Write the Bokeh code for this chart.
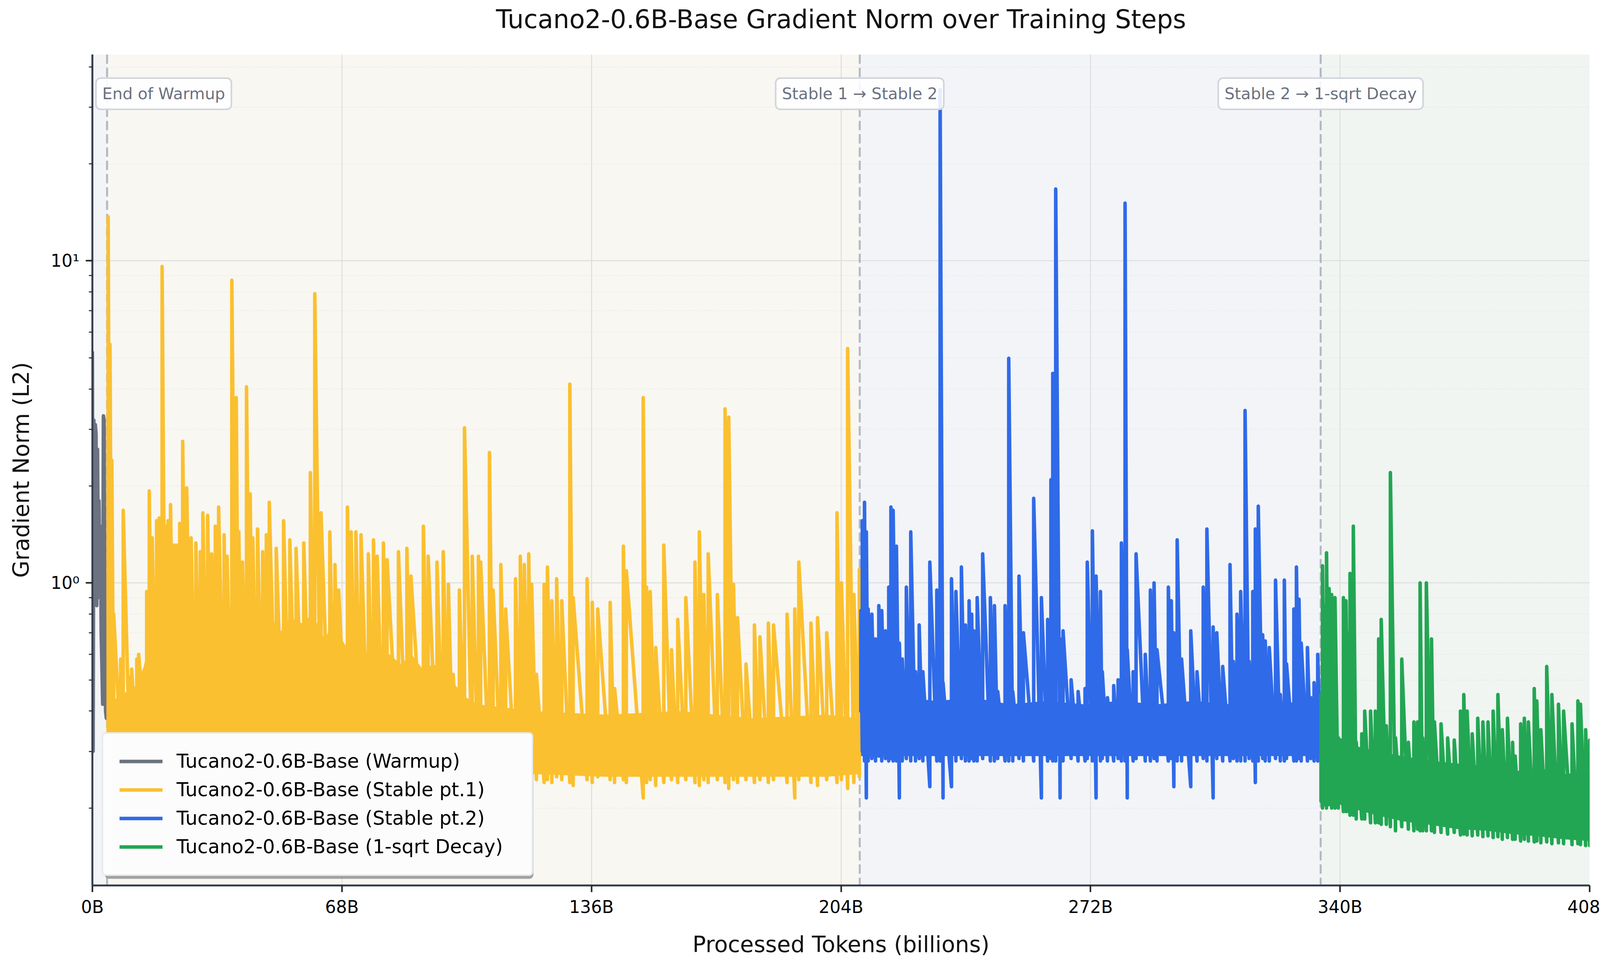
from bokeh.plotting import figure
from bokeh.models import (Range1d, BoxAnnotation, Span, Label, Legend, LegendItem,
                          FixedTicker, LogTicker, Title)
from bokeh.embed import file_html
from bokeh.resources import INLINE

# ---- data (tokens in billions, grad norm L2) ----
x_ticks = [0, 68, 136, 204, 272, 340, 408]
x_tick_labels = ["0B", "68B", "136B", "204B", "272B", "340B", "408B"]

phase_edges = [0.0, 4.0, 209.1, 334.7, 408.0]
phase_names = ["Warmup", "Stable pt.1", "Stable pt.2", "1-sqrt Decay"]
boundary_text = ["End of Warmup", "Stable 1 \u2192 Stable 2", "Stable 2 \u2192 1-sqrt Decay"]

warm_tok = [0.0, 0.2, 0.4, 0.6, 0.8, 1.0, 1.2, 1.4, 1.6, 1.8, 2.0,
            2.2, 2.4, 2.6, 2.8, 3.0, 3.2, 3.4, 3.6, 3.8, 4.0]
warm_norm = [5.2, 0.3, 3.2, 1.3, 3.1, 2.9, 0.85, 2.6, 1.2, 1.8, 0.9,
             1.5, 0.7, 0.55, 0.42, 3.3, 3.2, 0.6, 0.4, 0.38, 0.42]

# stable pt.1 : spike position, spike top, trough before the spike
s1_tok = [4.3, 4.8, 5.3, 5.8, 7.7, 8.4, 10.1, 10.7, 12.1, 12.6,
          14.8, 15.5, 16.3, 17.5, 18.2, 19.0, 19.9, 20.6, 21.3, 22.3,
          23.0, 23.8, 24.6, 25.7, 26.9, 28.2, 29.4, 30.1, 31.4, 32.5,
          33.5, 34.4, 35.9, 36.7, 38.0, 39.2, 39.9, 40.9, 42.0, 43.0,
          43.7, 45.0, 46.4, 47.4, 48.2, 50.1, 52.1, 53.8, 55.5, 57.6,
          59.4, 60.6, 62.3, 64.7, 66.1, 67.1, 69.5, 70.5, 71.8, 73.2,
          75.2, 76.6, 77.6, 79.3, 80.3, 83.4, 85.7, 86.8, 90.2, 91.5,
          93.9, 95.6, 97.0, 98.3, 100.0, 101.4, 103.5, 105.2, 105.8, 108.2,
          109.2, 111.3, 112.6, 115.3, 116.6, 117.7, 118.9, 119.7, 121.0, 123.1,
          124.0, 125.2, 126.5, 127.9, 130.1, 131.0, 134.8, 136.2, 137.7, 141.1,
          142.3, 144.7, 145.5, 150.1, 151.0, 152.0, 153.5, 155.7, 157.8, 159.5,
          161.7, 164.2, 165.4, 166.6, 167.8, 170.3, 172.4, 173.4, 174.7, 175.8,
          178.1, 180.4, 181.9, 184.2, 185.6, 189.3, 191.4, 192.5, 195.8, 197.6,
          200.1, 202.9, 204.1, 205.8, 207.5, 209.0]
s1_peak = [13.7, 5.5, 2.4, 0.8, 0.58, 1.68, 0.51, 0.54, 0.58, 0.60,
           0.94, 1.93, 1.38, 1.56, 1.59, 9.6, 1.50, 1.56, 1.75, 1.31,
           1.31, 1.53, 2.75, 1.97, 1.38, 1.33, 1.25, 1.65, 1.62, 1.23,
           1.50, 1.72, 1.41, 1.21, 8.7, 3.76, 1.44, 1.16, 4.06, 1.89,
           1.38, 1.47, 1.25, 1.41, 1.78, 1.28, 1.56, 1.36, 1.28, 1.33,
           2.2, 7.9, 1.65, 1.44, 1.14, 0.95, 1.72, 1.44, 1.44, 1.41,
           1.23, 1.36, 1.21, 1.33, 1.18, 1.25, 1.28, 1.05, 1.5, 1.21,
           1.16, 1.25, 0.99, 0.52, 0.95, 3.03, 1.21, 1.21, 1.16, 2.54,
           0.95, 1.14, 0.83, 1.03, 1.21, 1.14, 1.23, 0.99, 0.52, 0.99,
           1.12, 0.88, 1.03, 0.88, 4.14, 0.90, 1.03, 0.87, 0.83, 0.87,
           0.47, 1.3, 1.09, 3.76, 0.97, 0.94, 0.63, 1.31, 0.62, 0.77,
           0.90, 1.16, 1.44, 0.92, 1.23, 0.92, 3.47, 3.27, 0.99, 0.78,
           0.56, 0.74, 0.68, 0.75, 0.74, 0.80, 0.83, 1.16, 0.75, 0.78,
           0.70, 1.65, 1.0, 5.34, 0.92, 1.1]
s1_trough = [0.30, 0.32, 0.33, 0.30, 0.31, 0.30, 0.31, 0.30, 0.30, 0.31,
             0.30, 0.28, 0.27, 0.26, 0.27, 0.26, 0.26, 0.27, 0.26, 0.26,
             0.26, 0.27, 0.26, 0.26, 0.27, 0.26, 0.26, 0.26, 0.27, 0.26,
             0.26, 0.26, 0.27, 0.26, 0.26, 0.25, 0.26, 0.26, 0.26, 0.26,
             0.26, 0.27, 0.26, 0.26, 0.26, 0.26, 0.25, 0.26, 0.26, 0.26,
             0.26, 0.26, 0.25, 0.26, 0.26, 0.26, 0.26, 0.26, 0.25, 0.26,
             0.26, 0.26, 0.25, 0.26, 0.26, 0.26, 0.25, 0.26, 0.26, 0.25,
             0.26, 0.25, 0.26, 0.26, 0.25, 0.26, 0.25, 0.245, 0.25, 0.245,
             0.24, 0.25, 0.245, 0.24, 0.25, 0.245, 0.24, 0.25, 0.245, 0.24,
             0.245, 0.24, 0.25, 0.245, 0.24, 0.235, 0.245, 0.24, 0.25, 0.245,
             0.24, 0.245, 0.24, 0.215, 0.24, 0.245, 0.235, 0.24, 0.245, 0.24,
             0.245, 0.24, 0.235, 0.245, 0.24, 0.245, 0.24, 0.23, 0.245, 0.24,
             0.245, 0.24, 0.245, 0.24, 0.245, 0.24, 0.215, 0.245, 0.24, 0.235,
             0.245, 0.24, 0.245, 0.23, 0.24, 0.25]
# solid (dense) part of the stable pt.1 curve
s1_band_tok = [4, 8, 12, 14, 16, 18, 21, 24, 27, 30, 33, 36, 39, 42, 45, 48, 51,
               54, 57, 60, 63, 66, 69, 72, 75, 78, 81, 84, 87, 90, 93, 96, 99,
               102, 105, 120, 140, 160, 180, 200, 209]
s1_band_lo = [0.30, 0.30, 0.30, 0.30, 0.27, 0.265, 0.265, 0.265, 0.265, 0.265,
              0.265, 0.265, 0.265, 0.265, 0.265, 0.265, 0.265, 0.265, 0.265,
              0.265, 0.265, 0.265, 0.265, 0.265, 0.265, 0.265, 0.265, 0.26,
              0.26, 0.26, 0.26, 0.26, 0.26, 0.255, 0.255, 0.255, 0.25, 0.25,
              0.25, 0.25, 0.255]
s1_band_hi = [0.42, 0.45, 0.48, 0.55, 0.70, 0.75, 0.80, 0.72, 0.82, 0.76, 0.80,
              0.72, 0.85, 0.78, 0.74, 0.82, 0.70, 0.78, 0.75, 0.80, 0.68, 0.72,
              0.64, 0.68, 0.60, 0.64, 0.60, 0.56, 0.60, 0.54, 0.56, 0.52, 0.48,
              0.44, 0.42, 0.40, 0.39, 0.40, 0.38, 0.39, 0.38]

# stable pt.2
s2_tok = [209.4, 209.8, 210.4, 210.9, 211.4, 212.4, 213.4, 214.3, 215.1, 216.1,
          217.0, 217.6, 218.2, 219.1, 219.9, 220.7, 221.8, 223.0, 224.3, 225.3,
          226.3, 228.2, 230.1, 231.0, 231.8, 234.1, 235.3, 236.8, 237.9, 238.9,
          239.6, 240.2, 241.1, 242.6, 244.7, 245.8, 246.7, 248.7, 249.7, 250.8,
          252.5, 253.7, 256.5, 258.6, 260.3, 261.2, 261.7, 262.5, 263.7, 264.5,
          266.7, 268.6, 270.5, 271.1, 272.5, 273.5, 274.7, 275.2, 276.6, 278.3,
          279.5, 280.4, 281.4, 282.0, 283.6, 284.4, 286.9, 288.3, 289.3, 290.1,
          293.2, 294.0, 294.7, 295.6, 296.8, 299.3, 301.0, 302.7, 303.7, 305.4,
          306.4, 308.0, 310.0, 310.9, 311.9, 312.9, 314.1, 315.2, 316.2, 316.9,
          317.7, 318.9, 319.6, 320.7, 322.4, 323.7, 324.8, 325.4, 327.4, 328.1,
          328.8, 329.4, 331.1, 332.0, 332.9, 333.9, 334.7]
s2_peak = [0.82, 1.56, 1.78, 1.44, 0.83, 0.80, 0.67, 0.85, 0.82, 0.71,
           0.97, 1.72, 1.68, 1.3, 0.65, 0.58, 0.97, 1.44, 0.53, 0.74,
           0.53, 1.16, 0.95, 34.0, 0.49, 1.03, 0.94, 1.12, 0.74, 0.88,
           0.80, 0.71, 0.90, 1.23, 0.90, 0.85, 0.46, 0.85, 4.98, 0.46,
           1.05, 0.70, 1.83, 0.90, 0.77, 2.09, 4.47, 16.7, 0.67, 0.71,
           0.50, 0.46, 0.47, 1.16, 1.45, 1.05, 0.94, 0.53, 0.44, 0.48,
           0.50, 1.33, 15.1, 0.62, 0.53, 1.23, 0.60, 0.95, 1.0, 0.62,
           0.97, 0.88, 0.70, 1.36, 0.58, 0.71, 0.53, 0.97, 1.47, 0.73,
           0.70, 0.55, 1.14, 0.57, 0.8, 0.94, 3.43, 0.57, 0.94, 1.47,
           1.73, 0.69, 0.66, 0.63, 1.02, 0.45, 1.02, 0.56, 0.83, 1.12,
           0.89, 0.65, 0.63, 0.44, 0.49, 0.60, 0.42]
s2_trough = [0.40, 0.30, 0.28, 0.215, 0.28, 0.285, 0.28, 0.29, 0.28, 0.285,
             0.28, 0.285, 0.28, 0.28, 0.215, 0.28, 0.285, 0.28, 0.28, 0.285,
             0.28, 0.233, 0.28, 0.28, 0.215, 0.233, 0.28, 0.285, 0.28, 0.28,
             0.285, 0.28, 0.28, 0.285, 0.28, 0.28, 0.285, 0.28, 0.28, 0.28,
             0.285, 0.28, 0.28, 0.215, 0.28, 0.285, 0.28, 0.28, 0.215, 0.28,
             0.285, 0.28, 0.28, 0.285, 0.28, 0.215, 0.28, 0.285, 0.28, 0.28,
             0.285, 0.28, 0.28, 0.215, 0.28, 0.285, 0.28, 0.28, 0.285, 0.28,
             0.28, 0.285, 0.233, 0.28, 0.28, 0.233, 0.28, 0.285, 0.28, 0.215,
             0.285, 0.28, 0.28, 0.285, 0.28, 0.28, 0.28, 0.285, 0.28, 0.24,
             0.28, 0.285, 0.28, 0.28, 0.285, 0.28, 0.28, 0.285, 0.28, 0.28,
             0.285, 0.28, 0.28, 0.285, 0.28, 0.28, 0.30]
s2_band_tok = [209.4, 215.0, 222.0, 230.0, 240.0, 250.0, 260.0, 270.0, 280.0,
               290.0, 300.0, 310.0, 320.0, 334.7]
s2_band_lo = [0.29, 0.29, 0.29, 0.29, 0.29, 0.29, 0.29, 0.29, 0.29, 0.29,
              0.29, 0.29, 0.29, 0.29]
s2_band_hi = [0.48, 0.46, 0.44, 0.43, 0.44, 0.42, 0.43, 0.42, 0.43, 0.42,
              0.43, 0.42, 0.43, 0.42]

# 1-sqrt decay
d_tok = [334.8, 335.2, 335.8, 336.3, 337.0, 337.7, 338.6, 339.5, 340.9, 341.6,
         342.3, 342.7, 343.6, 344.4, 345.9, 346.7, 348.3, 349.6, 350.5, 351.2,
         352.6, 353.7, 355.1, 356.8, 358.6, 360.1, 361.1, 361.8, 362.5, 363.5,
         364.9, 365.7, 367.5, 369.3, 371.1, 372.8, 373.7, 374.6, 376.0, 377.5,
         378.9, 380.3, 381.7, 383.0, 384.2, 385.6, 387.0, 387.7, 389.2, 390.2,
         391.3, 392.9, 393.6, 394.7, 396.3, 397.7, 399.5, 400.9, 403.2, 404.8,
         405.5, 406.9, 408.0]
d_peak = [0.45, 1.13, 0.85, 1.24, 0.96, 0.92, 0.90, 0.33, 0.90, 0.88,
          0.70, 1.07, 1.5, 0.32, 0.34, 0.40, 0.40, 0.40, 0.67, 0.77,
          0.36, 2.2, 0.33, 0.58, 0.32, 0.37, 0.37, 1.0, 0.33, 1.0,
          0.67, 0.37, 0.365, 0.33, 0.325, 0.40, 0.45, 0.40, 0.34, 0.38,
          0.37, 0.37, 0.40, 0.45, 0.35, 0.38, 0.32, 0.29, 0.365, 0.38,
          0.37, 0.47, 0.43, 0.35, 0.55, 0.45, 0.42, 0.40, 0.365, 0.43,
          0.42, 0.35, 0.325]
d_trough = [0.21, 0.20, 0.205, 0.20, 0.205, 0.20, 0.20, 0.20, 0.195, 0.195,
            0.195, 0.19, 0.19, 0.185, 0.185, 0.185, 0.18, 0.18, 0.18, 0.178,
            0.178, 0.175, 0.17, 0.175, 0.172, 0.17, 0.172, 0.17, 0.17, 0.17,
            0.17, 0.168, 0.168, 0.166, 0.168, 0.165, 0.166, 0.165, 0.164, 0.165,
            0.163, 0.164, 0.162, 0.163, 0.16, 0.162, 0.16, 0.16, 0.158, 0.16,
            0.158, 0.157, 0.158, 0.156, 0.157, 0.155, 0.156, 0.155, 0.154, 0.155,
            0.154, 0.153, 0.153]
d_band_tok = [334.8, 340.0, 345.0, 350.0, 357.0, 365.0, 372.0, 380.0, 387.0,
              395.0, 401.0, 408.0]
d_band_lo = [0.215, 0.205, 0.197, 0.19, 0.182, 0.177, 0.172, 0.17, 0.166,
             0.163, 0.16, 0.158]
d_band_hi = [0.40, 0.33, 0.31, 0.30, 0.29, 0.28, 0.275, 0.27, 0.26, 0.265,
             0.255, 0.26]

# ---- style ----
FONT = "DejaVu Sans"
colors = ["#6b7280", "#fbc02f", "#2f6ae8", "#22a653"]
shade = ["#f3f4f6", "#f8f7f2", "#f2f4f8", "#f0f5f1"]


def spikes(tok, peak, trough):
    # trough then spike top at each logged position
    xs, ys = [], []
    for t, hi, lo in zip(tok, peak, trough):
        xs += [t, t]
        ys += [lo, hi]
    return xs, ys


p = figure(frame_width=3833, frame_height=2128,
           x_range=Range1d(0, 408), y_range=Range1d(0.115, 43.7),
           y_axis_type="log",
           output_backend="svg", toolbar_location=None,
           min_border_left=236, min_border_right=81,
           min_border_top=138, min_border_bottom=190)

# title: an empty spacer next to the frame pushes the real title up
p.add_layout(Title(text=" ", text_font_size="2px", standoff=40), "above")
p.add_layout(Title(text="Tucano2-0.6B-Base Gradient Norm over Training Steps",
                   text_font=FONT, text_font_size="65px",
                   text_font_style="normal", text_color="#111111",
                   align="center", standoff=18), "above")

p.outline_line_color = None
p.background_fill_color = "white"

# phase shading
for i in range(4):
    p.add_layout(BoxAnnotation(left=phase_edges[i], right=phase_edges[i + 1],
                               fill_color=shade[i], fill_alpha=1.0,
                               line_color=None, level="image"))

# grids
p.xgrid.ticker = FixedTicker(ticks=x_ticks)
p.xgrid.grid_line_color = "#dedede"
p.xgrid.grid_line_width = 2.5
p.ygrid.grid_line_color = "#dedede"
p.ygrid.grid_line_width = 2.5
p.ygrid.minor_grid_line_color = "#e4e4e4"
p.ygrid.minor_grid_line_width = 2
p.ygrid.minor_grid_line_dash = "2 4"

# phase boundaries
for e in phase_edges[1:4]:
    p.add_layout(Span(location=e, dimension="height", line_color="#9ca3af",
                      line_alpha=0.75, line_width=5, line_dash="24 10",
                      level="underlay"))

# bands (dense part of the noisy curve)
p.varea(x=s1_band_tok, y1=s1_band_lo, y2=s1_band_hi, fill_color=colors[1])
p.varea(x=s2_band_tok, y1=s2_band_lo, y2=s2_band_hi, fill_color=colors[2])
p.varea(x=d_band_tok, y1=d_band_lo, y2=d_band_hi, fill_color=colors[3])

r_w = p.line(warm_tok, warm_norm, line_color=colors[0], line_width=9,
             line_cap="round", line_join="round")
x1, y1 = spikes(s1_tok, s1_peak, s1_trough)
r_1 = p.line(x1, y1, line_color=colors[1], line_width=9,
             line_cap="round", line_join="round")
x2, y2 = spikes(s2_tok, s2_peak, s2_trough)
r_2 = p.line(x2, y2, line_color=colors[2], line_width=9,
             line_cap="round", line_join="round")
x3, y3 = spikes(d_tok, d_peak, d_trough)
r_3 = p.line(x3, y3, line_color=colors[3], line_width=9,
             line_cap="round", line_join="round")

# boundary labels (the first one is nudged right so it stays inside the frame)
for i, (e, txt) in enumerate(zip(phase_edges[1:4], boundary_text)):
    p.add_layout(Label(x=e, y=33.0, text=txt, text_align="center",
                       text_baseline="middle", text_font=FONT,
                       x_offset=145 if i == 0 else 0,
                       text_font_size="41px", text_color="#6b7280",
                       background_fill_color="white", background_fill_alpha=0.88,
                       border_line_color="#d1d5db", border_line_width=4,
                       border_radius=12, padding=16))

# axes
p.xaxis.ticker = FixedTicker(ticks=x_ticks)
p.xaxis.major_label_overrides = dict(zip(x_ticks, x_tick_labels))
p.xaxis.minor_tick_line_color = None
p.xaxis.axis_label = "Processed Tokens (billions)"
p.yaxis.ticker = LogTicker(num_minor_ticks=10)
p.yaxis.major_label_overrides = {1: "10\u2070", 10: "10\u00b9"}
p.yaxis.axis_label = "Gradient Norm (L2)"

for ax in (p.xaxis[0], p.yaxis[0]):
    ax.axis_line_color = "#374151"
    ax.axis_line_width = 5
    ax.major_tick_line_color = "#222222"
    ax.major_tick_line_width = 4
    ax.major_tick_out = 17
    ax.major_tick_in = 0
    ax.major_label_text_font = FONT
    ax.major_label_text_font_size = "44px"
    ax.major_label_text_color = "black"
    ax.axis_label_text_font = FONT
    ax.axis_label_text_font_size = "57px"
    ax.axis_label_text_font_style = "normal"
    ax.axis_label_text_color = "#111111"

p.yaxis.minor_tick_line_color = "#222222"
p.yaxis.minor_tick_line_width = 2.5
p.yaxis.minor_tick_out = 9
p.yaxis.minor_tick_in = 0
p.xaxis.major_label_standoff = 12
p.yaxis.major_label_standoff = 16
p.xaxis.axis_label_standoff = 34
p.yaxis.axis_label_standoff = 40

# legend with drop shadow (canvas px: legend sits 24px inside the frame corner)
p.add_layout(BoxAnnotation(left=268, right=1365, top=1900, bottom=2250,
                           left_units="canvas", right_units="canvas",
                           top_units="canvas", bottom_units="canvas",
                           fill_color="#999999", fill_alpha=0.9,
                           line_color=None, border_radius=10))
items = [LegendItem(label="Tucano2-0.6B-Base (%s)" % n, renderers=[r])
         for n, r in zip(phase_names, [r_w, r_1, r_2, r_3])]
legend = Legend(items=items, location=(24, 24))
legend.label_text_font = FONT
legend.label_text_font_size = "49px"
legend.label_text_color = "black"
legend.glyph_width = 110
legend.glyph_height = 55
legend.label_height = 55
legend.label_width = 867
legend.label_standoff = 36
legend.spacing = 16
legend.padding = 42
legend.margin = 0
legend.border_line_color = "#d1d5db"
legend.border_line_width = 4
legend.border_radius = 10
legend.background_fill_color = "#fcfcfc"
legend.background_fill_alpha = 1.0
p.add_layout(legend, "center")

open("out.html", "w").write(file_html(p, INLINE))
